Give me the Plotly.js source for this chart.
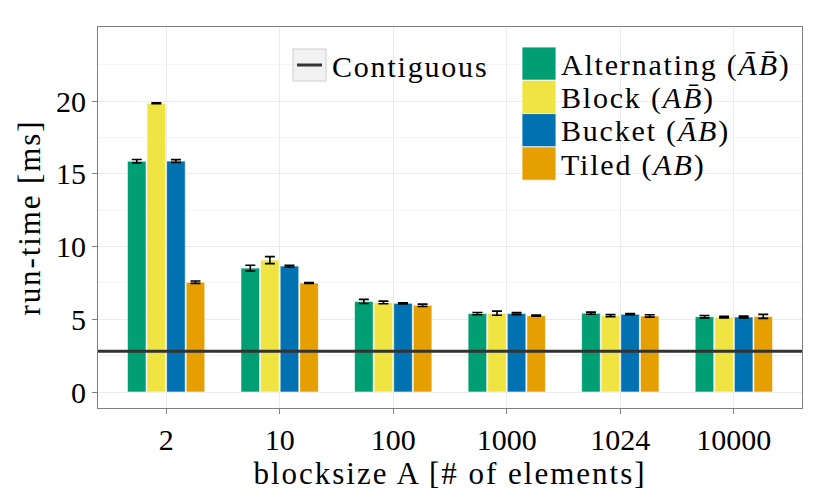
<!DOCTYPE html>
<html>
<head>
<meta charset="utf-8">
<script src="https://cdn.plot.ly/plotly-3.0.1.min.js"></script>
<style>
  html, body { margin: 0; padding: 0; background: #fff; }
  #chart { width: 830px; height: 498px; }
  /* Computer Modern runs wider than Times, so stretch titles and legend a bit */
  #chart .xtitle { letter-spacing: 2px; }
  #chart .ytitle { letter-spacing: 1.9px; }
  #chart .annotation-text { letter-spacing: 1.8px; }
</style>
</head>
<body>
<div id="chart"></div>
<script>
// blocksizes on the x axis
const blocksizes = ['2', '10', '100', '1000', '1024', '10000'];

// mean run-time [ms] per layout
const alternating = [15.87, 8.52, 6.23, 5.39, 5.42, 5.18];
const block       = [19.86, 9.07, 6.16, 5.42, 5.25, 5.15];
const bucket      = [15.88, 8.66, 6.10, 5.39, 5.35, 5.16];
const tiled       = [7.55, 7.50, 5.96, 5.25, 5.23, 5.20];

// error bar half-widths
const alternatingErr = [0.12, 0.20, 0.14, 0.08, 0.07, 0.08];
const blockErr       = [0.03, 0.24, 0.09, 0.14, 0.07, 0.05];
const bucketErr      = [0.10, 0.06, 0.04, 0.07, 0.04, 0.06];
const tiledErr       = [0.08, 0.03, 0.08, 0.04, 0.08, 0.14];

// contiguous baseline
const contiguous = 2.8;

const seriesNames = ['Alternating (<i>A\u0304B\u0304</i>)', 'Block (<i>AB\u0304</i>)',
                     'Bucket (<i>A\u0304B</i>)', 'Tiled (<i>AB</i>)'];
const colors = ['#009E73', '#F0E442', '#0072B2', '#E69F00'];

const FONT = 'Liberation Serif, Times New Roman, serif';

// panel box in pixels
const W = 830, H = 498;
const L = 98, R = 802, T = 27, B = 408;
const px = x => (x - L) / (R - L);
const py = y => (B - y) / (B - T);

const values = [alternating, block, bucket, tiled];
const errs = [alternatingErr, blockErr, bucketErr, tiledErr];

const traces = values.map((v, i) => ({
  type: 'bar',
  x: blocksizes,
  y: v,
  name: seriesNames[i],
  marker: { color: colors[i], line: { color: '#ffffff', width: 0.6 } },
  error_y: { type: 'data', array: errs[i], visible: true, color: '#000', thickness: 1.6, width: 5 },
  showlegend: false,
  hoverinfo: 'x+y'
}));

// manual legend (ggplot style keys)
const shapes = [
  // contiguous line across the panel
  { type: 'line', xref: 'paper', x0: 0, x1: 1, yref: 'y', y0: contiguous, y1: contiguous,
    line: { color: '#333333', width: 3 } },
  // contiguous key box
  { type: 'rect', xref: 'paper', yref: 'paper', x0: px(293), x1: px(326), y0: py(81), y1: py(49),
    line: { color: '#cccccc', width: 1 }, fillcolor: '#f2f2f2' },
  { type: 'line', xref: 'paper', yref: 'paper', x0: px(297), x1: px(322), y0: py(65), y1: py(65),
    line: { color: '#333333', width: 3 } }
];
const annotations = [
  { xref: 'paper', yref: 'paper', x: px(330), y: py(66), xanchor: 'left', yanchor: 'middle', align: 'left',
    text: 'Contiguous', showarrow: false, font: { family: FONT, size: 30, color: '#000' } }
];
const keyTop = 47, keyH = 33.3;
colors.forEach((c, i) => {
  shapes.push({ type: 'rect', xref: 'paper', yref: 'paper',
    x0: px(522), x1: px(556), y0: py(keyTop + keyH * (i + 1)), y1: py(keyTop + keyH * i),
    line: { color: '#ffffff', width: 0.8 }, fillcolor: c });
  annotations.push({ xref: 'paper', yref: 'paper', x: px(559), y: py(keyTop + keyH * (i + 0.5) + 1),
    xanchor: 'left', yanchor: 'middle', align: 'left', text: seriesNames[i], showarrow: false,
    font: { family: FONT, size: 30, color: '#000' } });
});

const layout = {
  width: W, height: H,
  margin: { l: L, r: W - R, t: T, b: H - B },
  paper_bgcolor: '#ffffff',
  plot_bgcolor: '#ffffff',
  font: { family: FONT, size: 28, color: '#000' },
  barmode: 'group',
  bargap: 0.31,
  bargroupgap: 0.05,
  showlegend: false,
  xaxis: {
    type: 'category',
    range: [-0.6, 5.6],
    showgrid: true, gridcolor: '#ebebeb', gridwidth: 1,
    ticks: 'outside', ticklen: 5, tickcolor: '#7f7f7f', tickwidth: 1,
    tickfont: { family: FONT, size: 30, color: '#000' },
    showline: true, linecolor: '#7f7f7f', linewidth: 1, mirror: true,
    zeroline: false,
    title: { text: 'blocksize A [# of elements]', font: { family: FONT, size: 31, color: '#000' }, standoff: 2 }
  },
  yaxis: {
    range: [-1.1, 25.1],
    tickvals: [0, 5, 10, 15, 20],
    showgrid: true, gridcolor: '#ebebeb', gridwidth: 1,
    minor: { tickvals: [2.5, 7.5, 12.5, 17.5, 22.5], showgrid: true, gridcolor: '#f5f5f5', gridwidth: 1 },
    ticks: 'outside', ticklen: 5, tickcolor: '#7f7f7f', tickwidth: 1,
    tickfont: { family: FONT, size: 30, color: '#000' },
    showline: true, linecolor: '#7f7f7f', linewidth: 1, mirror: true,
    zeroline: false,
    title: { text: 'run-time [ms]', font: { family: FONT, size: 31, color: '#000' }, standoff: 6 }
  },
  shapes: shapes,
  annotations: annotations
};

Plotly.newPlot('chart', traces, layout, { displayModeBar: false, staticPlot: true });
</script>
</body>
</html>
